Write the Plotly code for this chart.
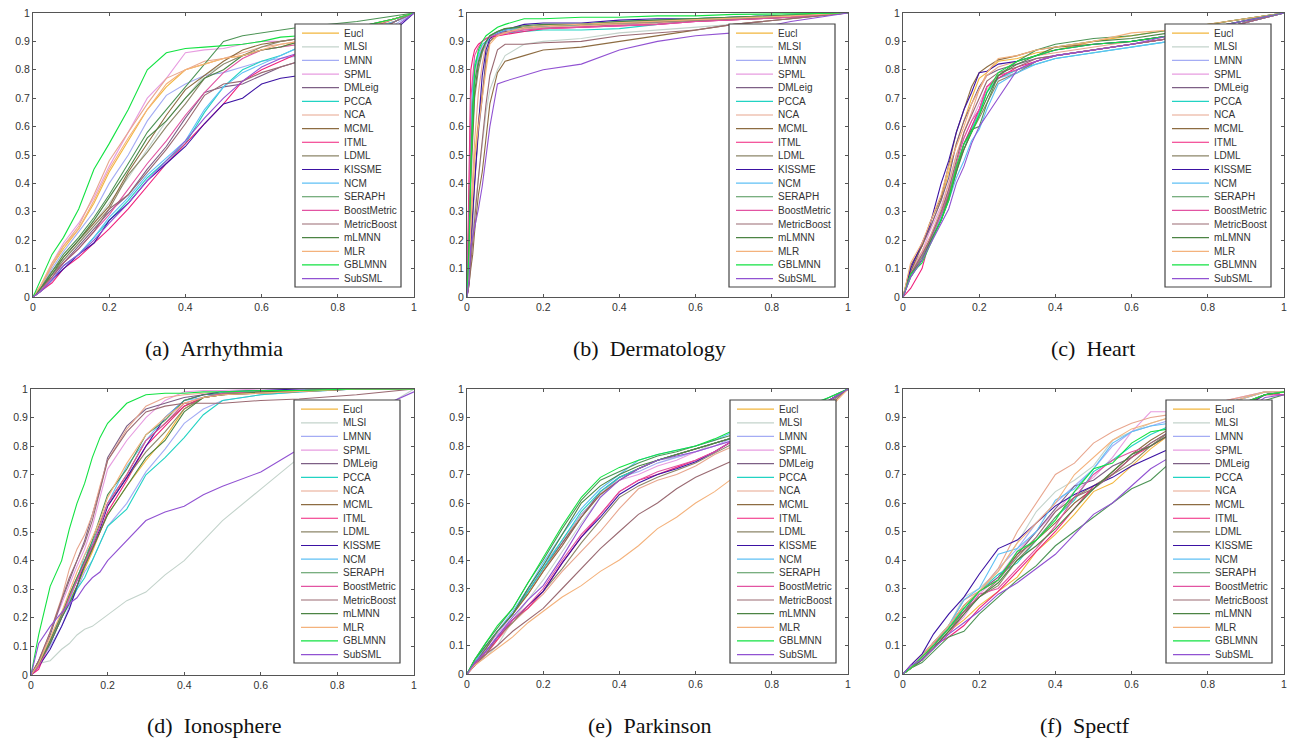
import plotly.graph_objects as go

W, H = 1295, 740
METHODS = ["Eucl","MLSI","LMNN","SPML","DMLeig","PCCA","NCA","MCML","ITML","LDML","KISSME","NCM","SERAPH","BoostMetric","MetricBoost","mLMNN","MLR","GBLMNN","SubSML"]
COLORS = ["#f2b63c","#c3d3cb","#a4acf4","#e79ce0","#7d5f85","#22d3c3","#e8a68e","#8d6c42","#f0217c","#8c8668","#3b12a3","#5fc0f5","#4d9456","#e253a2","#9a6a72","#4c8444","#f4b27c","#12e242","#9152d2"]
CAPTIONS = ["(a)\u00a0\u00a0Arrhythmia","(b)\u00a0\u00a0Dermatology","(c)\u00a0\u00a0Heart","(d)\u00a0\u00a0Ionosphere","(e)\u00a0\u00a0Parkinson","(f)\u00a0\u00a0Spectf"]

# ---- (a) Arrhythmia, values in percent
A_X = [0,2,5,8,12,16,20,25,30,35,40,45,50,55,60,65,70,85,95,100]
A_EUCL = [0,3,11,17,24,33,44,55,66,74,80,82,84,85,87,88,90,94,97,100]
A_MLSI = [0,3,8,13,19,26,33,42,52,62,70,78,82,85,87,88,89,93,97,100]
A_LMNN = [0,3,10,16,23,30,40,50,62,71,75,78,79,81,83,84,85,90,96,100]
A_SPML = [0,4,12,19,26,35,46,58,70,77,86,87,87.5,89,90,90,91,95,98,100]
A_DMLEIG = [0,3,8,12,18,24,30,36,45,53,63,72,74,75,78,81,83,89,97,100]
A_PCCA = [0,2,6,11,15,21,27,34,42,48,54,65,74,80,83,85,88,93,97,100]
A_NCA = [0,4,11,18,25,36,48,58,68,77,80,83,84,86,88,89,90,94,98,100]
A_MCML = [0,3,9,14,20,26,32,44,54,64,73,78,83,87,89,90,91,95,98,100]
A_ITML = [0,2,5,10,14,19,24,31,39,47,54,61,68,76,80,83,86,91,97,100]
A_LDML = [0,2,8,13,19,25,31,43,51,60,68,77,82,85,88,90,91,95,98,100]
A_KISSME = [0,2,6,10,15,19,27,33,41,47,53,61,68,70,75,77,78,87,94,100]
A_NCM = [0,2,6,11,15,21,28,35,43,49,55,66,74,79,82,85,88,93,97,100]
A_SERAPH = [0,3,9,15,21,28,36,47,58,66,74,82,90,92,93,94,95,97,99,100]
A_BOOST = [0,2,7,12,17,23,29,38,47,55,64,72,79,84,87,88,89,93,98,100]
A_METRIC = [0,3,7,12,17,23,31,36,44,52,61,71,75,76,79,81,83,90,97,100]
A_MLMNN = [0,3,8,14,20,27,35,45,56,62,70,77,80,85,87,88,90,94,98,100]
A_MLR = [0,4,12,18,24,34,45,56,66,75,80,82,84,85,87,89,90,94,98,100]
A_GBLMNN = [0,6,15,21,31,45,54,66,80,86,87.5,88,88.5,89,90,91.5,92,95,98,100]
A_SUBSML = [0,2,6,11,15,20,26,33,41,48,55,63,70,76,81,84,86,91,95,100]

# ---- (b) Dermatology
B_X = [0,0.5,1,1.5,2,3,4,5,6,8,10,15,20,30,40,50,60,70,85,100]
B_EUCL = [0,8,25,38,50,62,72,82,90,92,93,95,95.5,95.5,96.5,97,97.5,98,99,100]
B_MLSI = [0,5,14,22,30,42,53,65,73,80,85,89,90,91,93,94,95,96,98,100]
B_LMNN = [0,20,50,65,75,84,88,90,91.5,93,94,95,95.5,96,97,97.5,98,98.5,99,100]
B_SPML = [0,22,55,70,78,85,88,90,91,92,92.5,94,94.5,95,95.5,96,97,97.5,98.5,100]
B_DMLEIG = [0,5,15,28,40,58,70,85,90,93,93.5,94.5,95,95,96,96.5,97,97.5,98.5,100]
B_PCCA = [0,25,60,75,82,86,89,90,91.5,92.5,93,93.5,94,94,94.5,96,97.5,98,99,100]
B_NCA = [0,12,30,45,55,72,82,89,91,92,93,94.5,95,95.5,96,96.5,97.5,98,99,100]
B_MCML = [0,4,10,15,23,36,44,55,68,79,83,85,87,88,90,92,94,96,98,100]
B_ITML = [0,35,80,84,87,89,90,91,91.5,92,92.5,93.5,94.5,95,95.5,96,97,97.5,98.5,100]
B_LDML = [0,15,40,58,70,80,86,89.5,91.5,93,94,95,95.5,96,96.5,97,97.5,98,98.5,100]
B_KISSME = [0,5,20,30,42,60,78,87,91,93,94,96,96.5,96.5,97.5,98,98,98.5,99,100]
B_NCM = [0,22,55,72,80,85,87,89.5,91.5,93,94,95,95.5,96,97,97.5,98,98.5,99,100]
B_SERAPH = [0,20,50,68,76,83,87,90,92,93.5,94.5,95,95.5,96,97,97.5,98,98.5,99,100]
B_BOOST = [0,28,70,79,85,88,90,91,91.5,92.5,93,94,94.5,95,95.5,96,97,97.5,98.5,100]
B_METRIC = [0,4,12,20,28,42,55,68,78,87,89,89,89.5,90,92,93,94,96,98,100]
B_MLMNN = [0,18,45,60,72,82,87,90,92,93.5,94.5,95.5,96,96,97,97.5,98,98.5,99,100]
B_MLR = [0,8,24,36,48,60,71,80,89,92,93,95,95.5,96,96.5,97,97.5,98,99,100]
B_GBLMNN = [0,15,45,65,80,87,90,92,93,95,96,98,98,98.5,98.5,99,99,99.5,99.7,100]
B_SUBSML = [0,6,18,21,25,31,39,50,60,75,76,78,80,82,87,90,92,93,97,100]

# ---- (c) Heart
C_X = [0,2,5,7,10,12,14,16,18,20,22,25,30,35,40,50,60,70,85,100]
C_EUCL = [0,11,18,24,34,44,54,62,70,77,79,83,84,86,87,90,92,94,97,100]
C_MLSI = [0,8,14,19,29,36,44,52,59,66,73,77,80,83,85,87,89,91,95,100]
C_LMNN = [0,9,15,20,29,37,46,54,60,66,72,77,79,83,85,87,89,91,95,100]
C_SPML = [0,10,16,23,32,40,50,56,62,68,74,78,80,83,85,87,89,91,95,100]
C_DMLEIG = [0,11,18,24,34,42,54,62,68,74,78,80,82,84,85,87,89,91,95,100]
C_PCCA = [0,8,14,20,28,36,46,52,59,65,72,77,80,82,84,86,88,90,95,100]
C_NCA = [0,9,16,21,31,40,50,58,65,73,78,81,83,85,86,88,90,92,96,100]
C_MCML = [0,9,18,26,35,47,58,66,74,79,81,83.5,85,87,88,89,90,92,96,100]
C_ITML = [0,3,10,20,28,36,45,54,60,66,74,77,81,83,85,87,89,91,95,100]
C_LDML = [0,8,14,20,28,36,46,52,58,63,68,76,79,83,85,87,89,91,95,100]
C_KISSME = [0,10,19,25,40,48,58,66,72,79,79.5,82,83,85,87,89,90,92,96,100]
C_NCM = [0,7,13,19,28,34,42,48,55,59,66,75,79,82,84,86,88,90,95,100]
C_SERAPH = [0,7,13,19,27,34,44,54,59,60,68,78,83,87,89,91,92,94,97,100]
C_BOOST = [0,8,15,20,29,38,47,56,62,66,74,78,80,83,85,87,89,91,95,100]
C_METRIC = [0,8,15,20,30,38,48,58,64,70,76,79,81,84,85,87,89,91,95,100]
C_MLMNN = [0,8,13,19,27,35,44,52,58,64,70,78,82,85,88,90,91,93,97,100]
C_MLR = [0,12,19,26,36,46,53,60,68,73,79,84,85,87,88,90,93,94,97,100]
C_GBLMNN = [0,8,12,18,27,34,46,54,58,64,72,79,83,85,87,89,90,92,96,100]
C_SUBSML = [0,7,13,18,26,31,40,46,54,60,64,70,80,83,85,87,89,92,96,100]

# ---- (d) Ionosphere
D_X = [0,2,5,8,10,12,14,16,18,20,25,30,35,40,45,50,60,70,85,100]
D_EUCL = [0,4,11,20,26,31,37,43,50,56,66,75,83,93,97,98.5,99,99.5,100,100]
D_MLSI = [0,4,5,9,11,14,16,17,19,21,26,29,35,40,47,54,65,76,88,100]
D_LMNN = [0,4,10,17,24,30,36,40,46,52,60,71,79,88,93,96,98,99,100,100]
D_SPML = [0,5,15,25,31,38,44,52,62,72,82,90,96,99,99.5,99.5,100,100,100,100]
D_DMLEIG = [0,5,14,26,33,40,47,56,65,76,87,93,95,97,98,98.5,99,99.5,100,100]
D_PCCA = [0,4,11,20,25,30,34,40,46,52,58,70,76,83,91,96,98,99,100,100]
D_NCA = [0,4,15,27,37,44,49,56,66,75,86,94,97,98,98.5,99,99,99.5,100,100]
D_MCML = [0,4,12,21,28,34,40,46,53,60,70,82,88,94,97,98,98.5,99,100,100]
D_ITML = [0,2,12,21,27,33,38,44,50,57,68,80,87,94,97,98,99,99.5,100,100]
D_LDML = [0,5,12,21,28,33,40,46,52,59,69,78,85,93,97,98,98.5,99,100,100]
D_KISSME = [0,3,9,17,23,31,39,45,51,59,69,80,90,96,98,99,99.5,100,100,100]
D_NCM = [0,4,11,20,26,33,42,46,52,60,73,82,90,96,97,99,99,99.5,100,100]
D_SERAPH = [0,4,12,22,28,34,40,47,55,63,72,84,89,96,98,98.5,99,99.5,100,100]
D_BOOST = [0,3,11,20,27,33,39,45,52,60,70,82,88,95,97,98.5,99,99.5,100,100]
D_METRIC = [0,5,15,26,34,40,46,54,65,75,85,92,94,95,95,95,96,96.5,98,100]
D_MLMNN = [0,4,11,20,25,31,38,44,50,56,66,76,82,92,97,98,99,99.5,100,100]
D_MLR = [0,4,13,22,29,36,42,48,54,62,74,84,90,95,97,98,98.5,99,100,100]
D_GBLMNN = [0,14,31,40,51,60,67,76,83,88,95,98,98.5,98.5,99,99,99.5,99.5,100,100]
D_SUBSML = [0,11,17,22,25,27,31,34,36,40,47,54,57,59,63,66,71,79,90,99]

# ---- (e) Parkinson
E_X = [0,2,5,8,12,16,20,25,30,35,40,45,50,55,60,65,70,85,95,100]
E_EUCL = [0,4,9,15,21,28,36,46,56,63,69,72,75,77,79,81,83,90,96,100]
E_MLSI = [0,3,6,10,19,26,33,43,53,62,69,72,75,76,78,81,83,90,96,100]
E_LMNN = [0,4,10,14,21,30,38,47,56,63,69,71,74,76,78,80,83,90,96,100]
E_SPML = [0,4,9,14,21,29,36,45,55,63,68,70,73,75,78,80,82,90,96,100]
E_DMLEIG = [0,4,10,15,21,29,37,46,55,64,69,72,75,77,79,81,83,90,96,100]
E_PCCA = [0,4,9,15,21,29,37,47,57,64,69,72,75,77,79,81,83,90,96,100]
E_NCA = [0,3,7,12,18,23,28,36,43,50,58,65,68,70,73,77,80,88,95,100]
E_MCML = [0,4,9,15,21,28,36,45,55,63,68,72,75,77,79,81,83,90,96,100]
E_ITML = [0,3,7,12,19,23,29,39,48,56,64,68,70,72.5,75,78,82,89,96,100]
E_LDML = [0,3,7,13,18,24,29,37,46,54,62,66,69,71.5,74,77.5,81,88,95,100]
E_KISSME = [0,3,8,13,19,24,29,39,48,55,63,67,70,72,74.5,78,82,89,96,100]
E_NCM = [0,4,10,15,22,30,39,49,58,65,70,75,77,78.5,80,82,85,91,97,100]
E_SERAPH = [0,5,11,16,23,32,40,51,61,68,71,74,76.5,78,80,82,84,91,97,100]
E_BOOST = [0,3,8,13,19,24,30,40,49,56,64,68,71,73,75,78,82,90,96,100]
E_METRIC = [0,4,7,10,15,19,23,30,37,44,50,56,60,65,69,72,75,85,94,100]
E_MLMNN = [0,5,10,15,21,30,38,49,60,66,70,73,75,77,79,81,83,90,96,100]
E_MLR = [0,3,6,9,13,18,22,27,31,36,40,45,51,55,60,64,69,83,93,100]
E_GBLMNN = [0,5,11,17,23,32,41,52,62,69,72.5,75,77,78.5,80,82.5,85.5,92,97,100]
E_SUBSML = [0,4,8,13,20,26,31,41,52,62,68,72,75,76.5,78,80,82,89,96,100]

# ---- (f) Spectf
F_X = [0,2,5,8,12,16,20,25,30,35,40,45,50,55,60,65,70,85,95,100]
F_EUCL = [0,2,5,9,15,19,24,29,34,43,49,56,64,67,73,79,84,92,98,99]
F_MLSI = [0,2,6,11,17,27,30,36,46,57,64,68,73,82,85,88,90,95,99,99]
F_LMNN = [0,2,6,11,16,24,29,37,44,53,60,66,72,80,85,87,89,95,99,99]
F_SPML = [0,2,5,10,15,20,28,34,43,50,57,64,69,76,85,92,92,96,99,99]
F_DMLEIG = [0,2,6,11,16,22,29,34,42,50,58,66,68,73,76,81,85,92,98,99]
F_PCCA = [0,2,5,10,16,23,29,35,39,47,55,61,71,75,80,84,87,93,98,99]
F_NCA = [0,3,7,11,17,26,29,37,50,60,70,74,81,85,88,90,91,96,99,98]
F_MCML = [0,2,6,11,17,24,29,33,42,47,53,60,65,71,77,82,86,93,98,99]
F_ITML = [0,2,5,10,13,17,23,29,36,43,50,58,66,70,76,80,84,92,98,98]
F_LDML = [0,2,5,9,15,22,27,31,40,47,55,62,66,70,74,80,85,93,98,99]
F_KISSME = [0,3,7,14,21,27,35,44,47,53,59,63,66,69,73,76,79,90,98,99]
F_NCM = [0,2,6,11,17,26,30,42,44,50,61,65,72,81,85,87,88,95,99,99]
F_SERAPH = [0,2,4,8,13,15,21,27,33,38,45,50,55,60,65,68,74,86,96,98]
F_BOOST = [0,2,6,11,14,21,28,30,37,44,52,62,70,75,78,80,84,92,98,98]
F_METRIC = [0,2,6,10,16,22,27,33,41,48,57,62,65,70,76,81,85,93,98,99]
F_MLMNN = [0,2,5,9,15,21,27,32,40,45,51,58,65,71,77,80,84,92,98,99]
F_MLR = [0,2,6,11,17,24,29,36,46,53,60,70,76,82,86,88,90,95,99,99]
F_GBLMNN = [0,2,6,10,16,23,29,33,43,47,54,64,72,74,81,85,86,93,98,99]
F_SUBSML = [0,3,5,9,14,18,22,28,32,37,42,49,56,60,66,72,76,88,97,98]

PANELS = [
    (A_X,[A_EUCL,A_MLSI,A_LMNN,A_SPML,A_DMLEIG,A_PCCA,A_NCA,A_MCML,A_ITML,A_LDML,A_KISSME,A_NCM,A_SERAPH,A_BOOST,A_METRIC,A_MLMNN,A_MLR,A_GBLMNN,A_SUBSML]),
    (B_X,[B_EUCL,B_MLSI,B_LMNN,B_SPML,B_DMLEIG,B_PCCA,B_NCA,B_MCML,B_ITML,B_LDML,B_KISSME,B_NCM,B_SERAPH,B_BOOST,B_METRIC,B_MLMNN,B_MLR,B_GBLMNN,B_SUBSML]),
    (C_X,[C_EUCL,C_MLSI,C_LMNN,C_SPML,C_DMLEIG,C_PCCA,C_NCA,C_MCML,C_ITML,C_LDML,C_KISSME,C_NCM,C_SERAPH,C_BOOST,C_METRIC,C_MLMNN,C_MLR,C_GBLMNN,C_SUBSML]),
    (D_X,[D_EUCL,D_MLSI,D_LMNN,D_SPML,D_DMLEIG,D_PCCA,D_NCA,D_MCML,D_ITML,D_LDML,D_KISSME,D_NCM,D_SERAPH,D_BOOST,D_METRIC,D_MLMNN,D_MLR,D_GBLMNN,D_SUBSML]),
    (E_X,[E_EUCL,E_MLSI,E_LMNN,E_SPML,E_DMLEIG,E_PCCA,E_NCA,E_MCML,E_ITML,E_LDML,E_KISSME,E_NCM,E_SERAPH,E_BOOST,E_METRIC,E_MLMNN,E_MLR,E_GBLMNN,E_SUBSML]),
    (F_X,[F_EUCL,F_MLSI,F_LMNN,F_SPML,F_DMLEIG,F_PCCA,F_NCA,F_MCML,F_ITML,F_LDML,F_KISSME,F_NCM,F_SERAPH,F_BOOST,F_METRIC,F_MLMNN,F_MLR,F_GBLMNN,F_SUBSML]),
]

# pixel layout: axes (left, right, top, bottom), legend box (left, top), caption (centre x, centre y)
AXES = [(33,414,13,297),(467,848,13,297),(903,1284,13,297),(31,414,389,675),(467,848,389,674),(903,1284,389,674)]
LEGENDS = [(295,24),(729,24),(1165,24),(294,400),(730,400),(1166,400)]
CAPS = [(214,349),(649,349),(1093,349),(214,725),(649,725),(1085,725)]
LEG_W, LEG_H, ROW = 106, 263, 13.63

px = lambda v: v / W
py = lambda v: 1 - v / H

fig = go.Figure()
layout = dict(width=W, height=H, autosize=False, margin=dict(l=0,r=0,t=0,b=0,pad=0,autoexpand=False),
              paper_bgcolor="white", plot_bgcolor="white", showlegend=False)
shapes, annos = [], []
AX_COL = "#555555"
for p,(xv,series) in enumerate(PANELS):
    sfx = "" if p == 0 else str(p+1)
    l,r,t,b = AXES[p]
    for name,col,vals in zip(METHODS,COLORS,series):
        fig.add_trace(go.Scatter(x=[v/100 for v in xv], y=[v/100 for v in vals], mode="lines", name=name,
                                 line=dict(color=col,width=1.1), xaxis="x"+sfx, yaxis="y"+sfx, hoverinfo="name"))
    common = dict(range=[0,1], showgrid=False, zeroline=False, showline=True, mirror="ticks", linecolor=AX_COL,
                  linewidth=1.2, ticks="inside", ticklen=3, tickwidth=1, tickcolor=AX_COL,
                  tickfont=dict(family="Liberation Sans", size=10.5, color="#333333"))
    layout["xaxis"+sfx] = dict(common, domain=[px(l),px(r)], anchor="y"+sfx, tickvals=[0,.2,.4,.6,.8,1],
                               ticktext=["0","0.2","0.4","0.6","0.8","1"])
    layout["yaxis"+sfx] = dict(common, domain=[py(b),py(t)], anchor="x"+sfx, tickvals=[i/10 for i in range(11)],
                               ticktext=["0"]+[f"0.{i}" for i in range(1,10)]+["1"])
    lx,ly = LEGENDS[p]
    shapes.append(dict(type="rect",xref="paper",yref="paper",x0=px(lx),x1=px(lx+LEG_W),y0=py(ly),y1=py(ly+LEG_H),
                       fillcolor="white",line=dict(color="#444444",width=1.2),layer="above"))
    for i,(name,col) in enumerate(zip(METHODS,COLORS)):
        yy = ly + 9.2 + i*ROW
        shapes.append(dict(type="line",xref="paper",yref="paper",x0=px(lx+7),x1=px(lx+44),y0=py(yy),y1=py(yy),
                           line=dict(color=col,width=1.2),layer="above"))
        annos.append(dict(xref="paper",yref="paper",x=px(lx+46.5),y=py(yy),text=name,showarrow=False,xanchor="left",
                          yanchor="middle",font=dict(family="Liberation Sans",size=10,color="#333333")))
    cx,cy = CAPS[p]
    annos.append(dict(xref="paper",yref="paper",x=px(cx),y=py(cy),text=CAPTIONS[p],showarrow=False,xanchor="center",
                      yanchor="middle",font=dict(family="Liberation Serif",size=22,color="#111111")))
layout["shapes"] = shapes
layout["annotations"] = annos
fig.update_layout(**layout)
fig.write_html("out.html", config={"displayModeBar": False}, post_script="document.body.style.margin='0';")
